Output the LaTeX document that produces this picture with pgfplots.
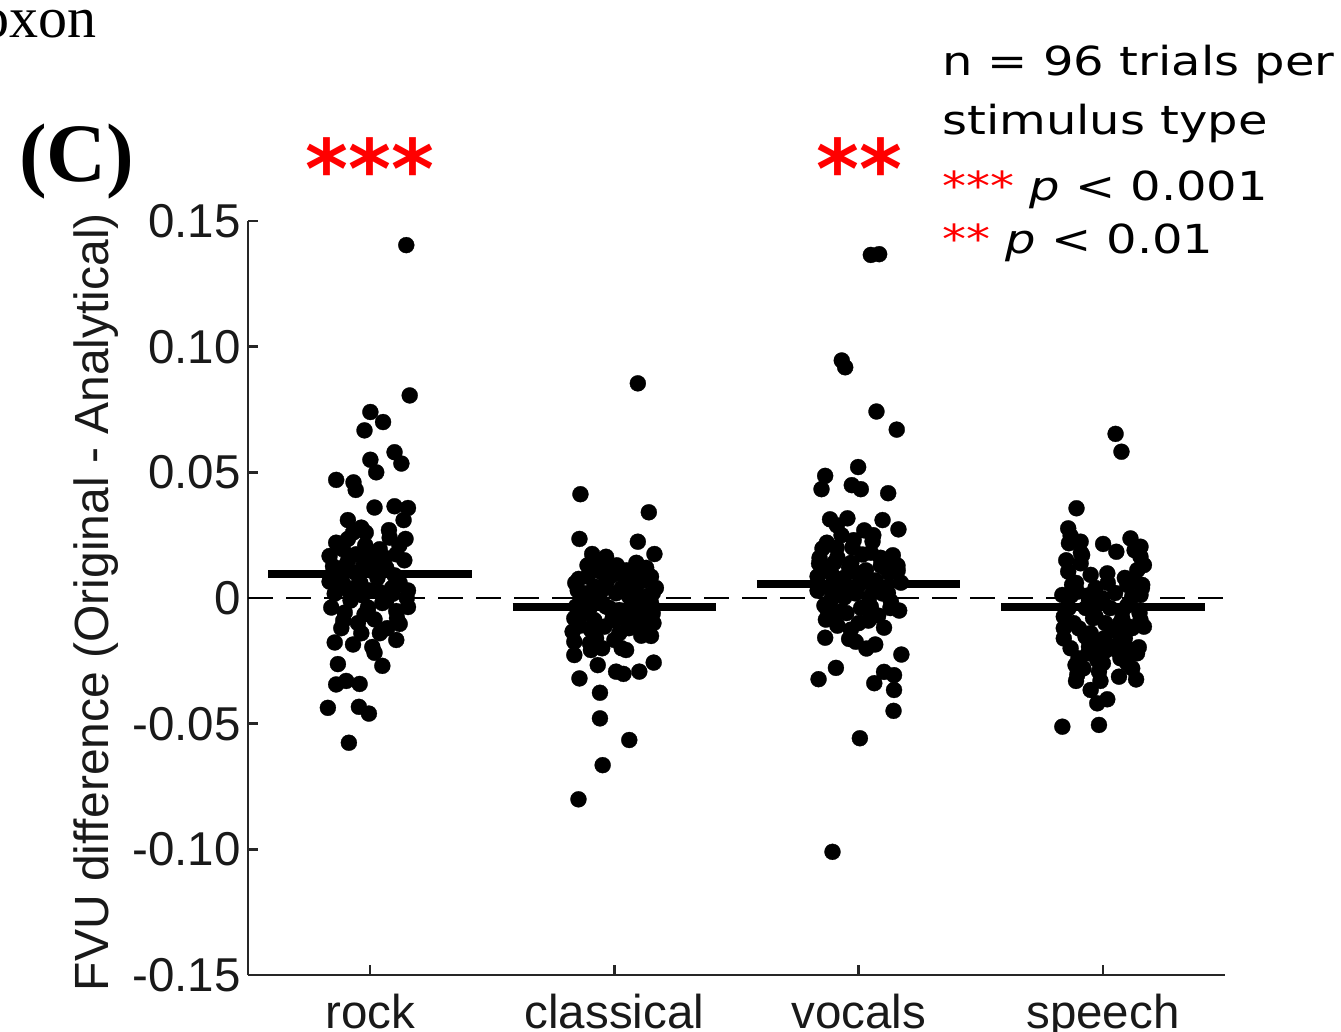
\documentclass[border=0pt]{standalone}
\usepackage{fontspec}
\usepackage{pgfplots}
\pgfplotsset{compat=1.18}
\usepackage{pgfplotstable}
\setmainfont{Liberation Sans}
\newfontfamily\panelfont{Liberation Serif}
\newfontfamily\notefont{DejaVu Sans}
\definecolor{axisgray}{rgb}{0.15,0.15,0.15}

% FVU difference per trial; dx = horizontal jitter around the category
\pgfplotstableread{
dx v
0.148 0.1404
0.162 0.0806
0.001 0.0740
0.053 0.0700
-0.023 0.0667
0.100 0.0580
0.128 0.0535
0.001 0.0550
0.025 0.0500
-0.139 0.0470
-0.068 0.0460
-0.059 0.0430
0.018 0.0360
0.100 0.0365
0.155 0.0358
0.137 0.0310
-0.091 0.0310
-0.036 0.0280
-0.018 0.0260
0.077 0.0270
0.145 0.0235
-0.139 0.0220
-0.091 0.0235
0.107 0.0174
-0.166 0.0167
0.039 0.0194
-0.111 0.0194
-0.057 0.0174
-0.002 0.0167
-0.152 0.0126
-0.098 0.0133
-0.029 0.0126
0.025 0.0140
0.066 0.0120
-0.166 0.0065
-0.111 0.0058
-0.057 0.0044
-0.002 0.0030
0.121 0.0060
0.155 0.0030
-0.145 0.0017
-0.084 0.0024
0.039 0.0024
0.093 0.0017
-0.159 -0.0038
-0.104 -0.0058
-0.009 -0.0038
0.066 -0.0010
0.155 -0.0036
0.107 -0.0052
0.018 -0.0085
-0.023 -0.0065
-0.118 -0.0120
0.121 -0.0103
-0.145 -0.0177
-0.070 -0.0185
-0.036 -0.0140
0.107 -0.0167
0.009 -0.0195
0.018 -0.0218
-0.132 -0.0263
0.050 -0.0270
-0.139 -0.0344
-0.098 -0.0330
-0.043 -0.0342
-0.173 -0.0437
-0.046 -0.0433
-0.005 -0.0460
-0.087 -0.0576
-0.12 0.020
-0.06 0.010
-0.02 0.021
0.03 0.008
0.06 0.016
0.09 0.004
-0.15 0.009
-0.08 -0.001
-0.03 0.001
0.00 0.011
0.05 -0.002
0.10 0.009
0.14 0.015
-0.11 -0.009
-0.05 -0.010
0.07 -0.012
0.11 -0.008
-0.13 0.004
0.02 0.018
-0.07 0.026
0.04 -0.014
0.15 0.000
-0.09 0.015
0.12 0.021
-0.01 -0.005
0.08 0.024
-0.04 0.006
}\rockdata

\pgfplotstableread{
dx v
0.096 0.0854
-0.139 0.0413
0.141 0.0341
-0.143 0.0235
0.096 0.0224
-0.091 0.0175
-0.034 0.0164
0.164 0.0175
-0.023 0.0125
-0.146 0.0076
-0.109 0.0085
0.020 0.0098
0.075 0.0111
0.116 0.0118
0.150 0.0085
-0.082 0.0045
-0.034 0.0058
0.048 0.0052
0.096 0.0058
0.157 0.0019
-0.123 0.0019
-0.061 0.0012
0.007 0.0019
0.061 0.0005
0.116 -0.0008
-0.157 -0.0034
-0.102 -0.0041
-0.034 -0.0034
0.020 -0.0048
0.082 -0.0061
0.157 -0.0061
-0.164 -0.0081
-0.082 -0.0088
-0.007 -0.0081
0.048 -0.0088
0.150 -0.0101
-0.171 -0.0134
-0.096 -0.0127
-0.041 -0.0114
0.102 -0.0121
0.150 -0.0151
-0.164 -0.0174
-0.075 -0.0160
0.000 -0.0167
-0.096 -0.0207
0.048 -0.0207
-0.164 -0.0227
-0.068 -0.0267
0.007 -0.0293
0.037 -0.0302
0.102 -0.0293
0.161 -0.0257
-0.143 -0.0320
-0.059 -0.0377
-0.059 -0.0479
0.061 -0.0565
-0.048 -0.0665
-0.147 -0.0801
-0.15 0.003
-0.12 -0.006
-0.09 0.011
-0.06 -0.002
-0.03 0.007
0.00 -0.009
0.03 0.004
0.06 -0.012
0.09 0.002
0.12 0.007
0.15 -0.002
-0.14 -0.011
-0.11 0.013
-0.08 -0.013
-0.05 0.010
-0.02 -0.004
0.01 0.013
0.04 -0.007
0.07 0.009
0.10 -0.009
0.13 0.012
0.16 -0.010
-0.16 0.006
-0.10 -0.018
-0.04 0.004
0.02 -0.014
0.08 -0.003
0.14 0.001
-0.07 0.015
0.11 -0.015
-0.01 0.009
0.05 0.011
-0.13 -0.001
0.17 0.004
-0.09 0.000
0.03 -0.020
0.09 0.014
-0.05 -0.020
0.12 -0.006
}\classicaldata

\pgfplotstableread{
dx v
0.050 0.1365
0.084 0.1368
-0.069 0.0945
-0.055 0.0918
0.073 0.0742
0.156 0.0670
-0.137 0.0486
-0.152 0.0433
-0.002 0.0521
-0.028 0.0449
0.009 0.0433
0.121 0.0417
-0.117 0.0313
-0.089 0.0289
-0.046 0.0317
0.098 0.0310
0.163 0.0273
0.023 0.0269
0.057 0.0225
-0.148 0.0197
-0.087 0.0161
-0.025 0.0201
0.016 0.0173
-0.162 0.0137
0.091 0.0129
0.159 0.0129
-0.039 0.0121
-0.168 0.0086
-0.107 0.0090
0.029 0.0090
0.125 0.0098
-0.168 0.0029
0.173 0.0061
-0.112 -0.0006
-0.059 0.0002
-0.012 0.0018
0.043 0.0002
0.098 0.0018
-0.128 -0.0046
-0.073 -0.0054
0.050 -0.0035
0.132 -0.0014
0.166 -0.0050
-0.134 -0.0086
-0.087 -0.0110
-0.032 -0.0126
0.104 -0.0118
-0.137 -0.0158
-0.039 -0.0163
-0.012 -0.0174
0.032 -0.0201
0.068 -0.0185
0.175 -0.0225
-0.093 -0.0278
-0.164 -0.0323
0.064 -0.0339
0.104 -0.0294
0.145 -0.0307
0.145 -0.0366
0.143 -0.0449
0.005 -0.0558
-0.107 -0.1010
-0.15 0.012
-0.12 0.004
-0.09 0.020
-0.06 0.008
-0.03 0.014
0.00 0.005
0.03 0.011
0.06 0.003
0.09 0.016
0.12 0.002
-0.14 -0.003
-0.10 0.014
-0.05 -0.006
-0.02 0.023
0.01 -0.004
0.05 0.018
0.08 -0.007
0.11 0.012
0.14 0.017
-0.08 0.002
-0.04 0.004
0.02 0.009
0.07 0.007
0.10 0.004
-0.11 -0.008
-0.07 0.025
0.04 -0.009
0.13 -0.004
-0.01 0.010
0.00 -0.010
-0.13 0.022
0.06 0.025
-0.16 0.016
0.16 0.011
}\vocalsdata

\pgfplotstableread{
dx v
0.052 0.0653
0.076 0.0582
-0.108 0.0357
-0.142 0.0277
-0.132 0.0247
-0.139 0.0218
-0.091 0.0224
0.001 0.0215
0.113 0.0237
0.055 0.0184
0.154 0.0204
-0.085 0.0171
0.154 0.0164
-0.091 0.0138
0.168 0.0131
-0.142 0.0105
-0.050 0.0092
0.018 0.0098
0.141 0.0111
-0.126 0.0052
0.100 0.0052
0.161 0.0052
-0.166 0.0012
-0.105 0.0025
-0.057 -0.0008
-0.003 -0.0001
0.120 0.0005
0.154 0.0012
-0.160 -0.0074
-0.030 -0.0074
0.079 -0.0081
0.154 -0.0088
-0.098 -0.0121
0.106 -0.0114
0.168 -0.0114
-0.160 -0.0161
-0.071 -0.0154
0.004 -0.0161
0.072 -0.0154
-0.132 -0.0200
-0.057 -0.0194
0.031 -0.0194
0.100 -0.0200
0.147 -0.0196
-0.112 -0.0267
-0.023 -0.0247
0.072 -0.0240
0.100 -0.0260
-0.105 -0.0306
-0.016 -0.0293
0.066 -0.0313
0.136 -0.0324
-0.050 -0.0366
-0.023 -0.0419
0.018 -0.0403
-0.166 -0.0512
-0.016 -0.0505
-0.15 0.015
-0.11 0.006
-0.07 -0.004
-0.03 0.004
0.01 -0.010
0.05 0.002
0.09 -0.016
0.13 0.007
-0.14 -0.004
-0.10 -0.024
-0.06 0.001
-0.02 -0.019
0.02 0.006
0.06 -0.021
0.10 -0.003
0.14 -0.022
-0.12 -0.010
-0.08 -0.028
-0.04 -0.008
0.00 -0.026
0.04 -0.013
0.08 -0.005
0.12 -0.028
0.16 0.004
-0.16 -0.012
-0.09 0.018
-0.05 -0.014
-0.01 -0.033
0.07 -0.010
0.15 -0.006
-0.13 0.001
-0.06 -0.022
0.03 -0.004
0.09 0.008
-0.11 -0.033
0.01 -0.021
0.12 -0.012
0.13 0.019
}\speechdata

\begin{document}
\begin{tikzpicture}[x=1pt,y=1pt]
\useasboundingbox (0,0) rectangle (1341,1031);
\clip (0,0) rectangle (1341,1031);

% panel heading
\node[anchor=base east, inner sep=0pt, font=\panelfont\fontsize{58}{58}\selectfont] at (97,993) {Wilcoxon};
\node[anchor=base west, inner sep=0pt, font=\panelfont\bfseries\fontsize{83}{83}\selectfont] at (19,849) {(C)};

\begin{axis}[
  at={(248pt,56pt)}, anchor=south west,
  scale only axis, width=977pt, height=754pt,
  xmin=0.5, xmax=4.5, ymin=-0.15, ymax=0.15,
  axis x line*=bottom, axis y line*=left,
  axis line style={axisgray, line width=2.5pt},
  tick style={axisgray, line width=2.5pt},
  major tick length=10pt,
  tick align=inside,
  xtick={1,2,3,4},
  xticklabels={rock,classical,vocals,speech},
  ytick={-0.15,-0.1,-0.05,0,0.05,0.1,0.15},
  yticklabels={-0.15,-0.10,-0.05,0,0.05,0.10,0.15},
  ticklabel style={font=\fontsize{47.5}{47.5}\selectfont, text=black!90},
  xticklabel style={anchor=north, inner sep=0pt, yshift=-19pt},
  yticklabel style={anchor=east, inner sep=0pt, xshift=-7pt},
  ylabel={FVU difference (Original - Analytical)},
  ylabel style={at={(axis description cs:-0.1433,0.4945)}, rotate=0, anchor=base,
    font=\fontsize{48}{48}\selectfont, text=black!90},
  clip=false,
]
\addplot[black, line width=2pt, dash pattern=on 25pt off 13pt] coordinates {(0.5,0) (4.5,0)};

\addplot[only marks, mark=*, mark size=8pt, mark options={fill=black, draw=black, line width=0.3pt}]
  table[x expr=\thisrow{dx}+1, y=v] {\rockdata};
\addplot[only marks, mark=*, mark size=8pt, mark options={fill=black, draw=black, line width=0.3pt}]
  table[x expr=\thisrow{dx}+2, y=v] {\classicaldata};
\addplot[only marks, mark=*, mark size=8pt, mark options={fill=black, draw=black, line width=0.3pt}]
  table[x expr=\thisrow{dx}+3, y=v] {\vocalsdata};
\addplot[only marks, mark=*, mark size=8pt, mark options={fill=black, draw=black, line width=0.3pt}]
  table[x expr=\thisrow{dx}+4, y=v] {\speechdata};

% group means
\addplot[black, line width=8pt] coordinates {(0.583,0.0095) (1.417,0.0095)};
\addplot[black, line width=8pt] coordinates {(1.583,-0.0035) (2.417,-0.0035)};
\addplot[black, line width=8pt] coordinates {(2.583,0.0057) (3.417,0.0057)};
\addplot[black, line width=8pt] coordinates {(3.583,-0.0035) (4.417,-0.0035)};
\end{axis}

% significance markers
\node[anchor=base, inner sep=0pt, text=red, font=\notefont\bfseries\fontsize{82}{82}\selectfont] at (370,832) {***};
\node[anchor=base, inner sep=0pt, text=red, font=\notefont\bfseries\fontsize{82}{82}\selectfont] at (859,832) {**};

% note on sample size and significance levels
\begin{scope}[every node/.style={anchor=base west, inner sep=0pt, xscale=1.2, transform shape,
    font=\notefont\fontsize{40}{40}\selectfont}]
\node at (942,955) {n = 96 trials per};
\node at (942,896) {stimulus type};
\node at (942,830) {\textcolor{red}{***} \itshape p\upshape{} < 0.001};
\node at (942,777) {\textcolor{red}{**} \itshape p\upshape{} < 0.01};
\end{scope}
\end{tikzpicture}
\end{document}
